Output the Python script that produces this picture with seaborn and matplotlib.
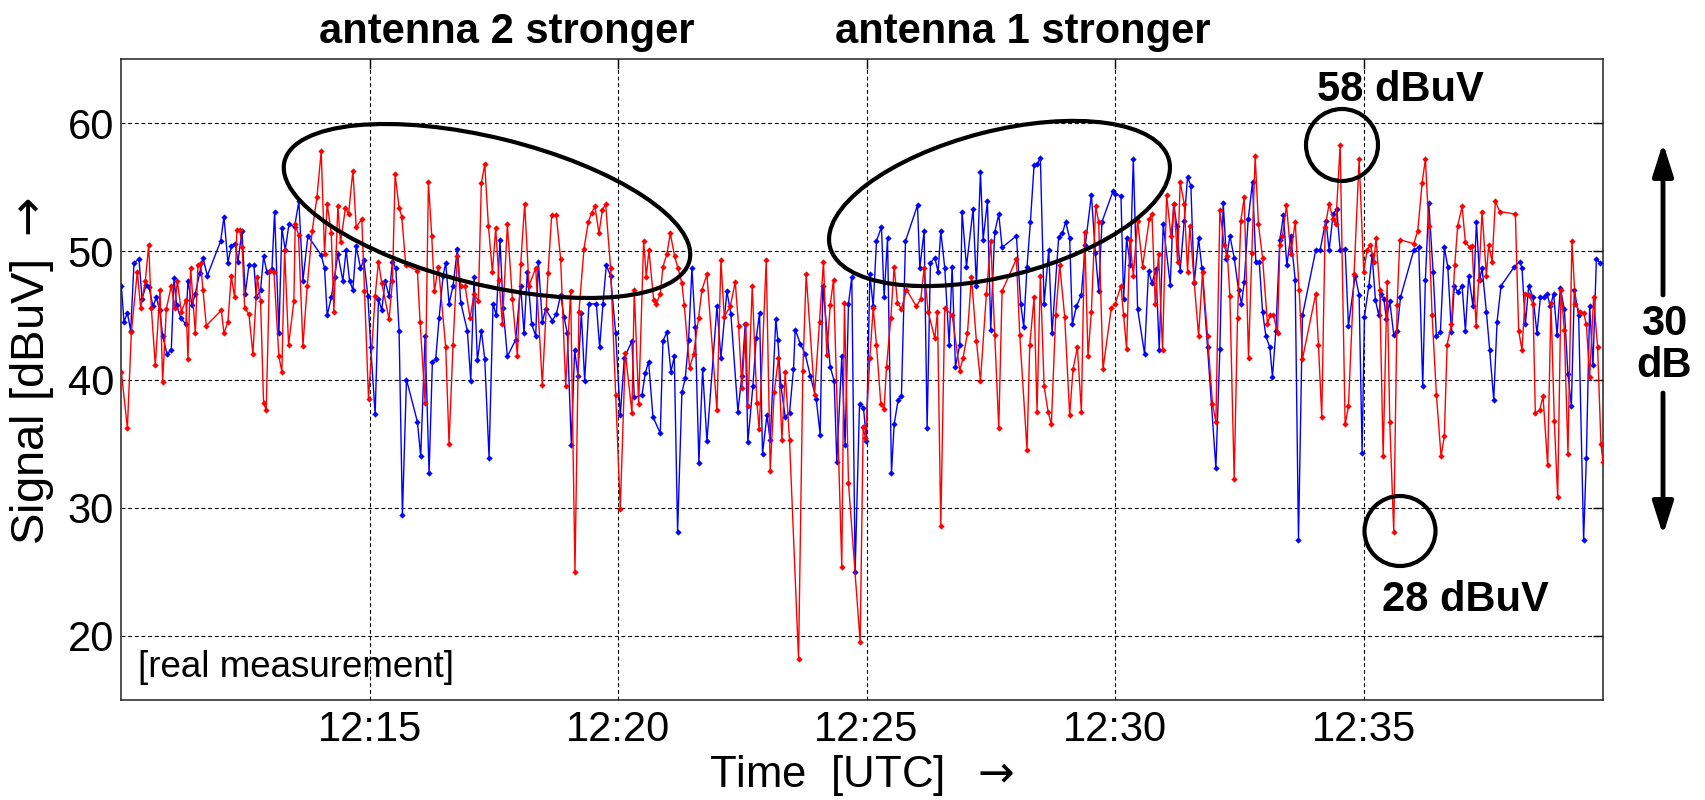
import matplotlib
matplotlib.use("Agg")
import matplotlib.pyplot as plt
import pandas as pd
import seaborn as sns
from matplotlib.patches import Ellipse, FancyArrowPatch
from matplotlib.transforms import IdentityTransform

# time in seconds after 12:10:00 UTC, signal in dBuV
red_points = [
    (0.4, 40.6), (7.7, 36.2), (12.5, 43.7), (19.7, 48.4), (23.7, 45.6), (29.4, 47.7), (33.4, 50.5), (36.6, 45.6),
    (41.4, 41.1), (47.1, 47.0), (50.3, 39.8), (54.7, 45.5), (60.7, 47.3), (64.8, 45.6), (68.0, 47.7), (72.8, 45.3),
    (78.4, 46.2), (80.8, 41.6), (84.1, 48.7), (89.7, 43.6), (92.9, 48.9), (96.1, 49.1), (98.9, 47.0), (103.0, 44.2),
    (121.1, 45.4), (124.3, 43.6), (129.1, 44.5), (133.1, 48.1), (137.1, 46.4), (140.0, 51.7), (143.2, 51.7),
    (146.4, 50.3), (149.2, 45.6), (154.4, 45.1), (159.2, 42.0), (164.5, 48.0), (168.5, 46.1), (172.1, 38.2),
    (175.3, 37.6), (179.4, 48.5), (184.6, 48.4), (190.6, 41.8), (194.2, 40.6), (197.5, 50.1), (202.3, 42.7),
    (208.7, 46.1), (210.3, 52.1), (214.3, 51.3), (219.6, 42.6), (224.8, 47.3), (230.8, 51.6), (236.5, 54.2),
    (241.7, 57.8), (245.7, 49.8), (248.9, 53.7), (253.8, 51.4), (257.0, 45.3), (261.8, 53.5), (265.0, 50.7),
    (271.0, 53.4), (274.7, 52.9), (279.9, 56.3), (283.9, 51.9), (290.7, 52.5), (293.9, 46.9), (298.8, 38.5),
    (306.8, 46.5), (310.8, 49.2), (314.8, 47.5), (323.6, 44.7), (327.7, 47.7), (330.9, 56.0), (335.7, 53.4),
    (338.9, 52.7), (343.8, 48.9), (357.8, 48.5), (361.0, 44.5), (367.1, 38.2), (371.1, 55.4), (375.1, 51.2),
    (378.3, 46.9), (383.2, 48.8), (392.0, 42.5), (396.0, 35.0), (400.8, 42.7), (406.1, 49.6), (410.1, 47.3),
    (415.3, 47.3), (421.4, 44.8), (426.2, 46.7), (431.4, 46.1), (435.0, 55.3), (439.1, 56.8), (443.5, 52.0),
    (448.3, 48.4), (452.3, 51.8), (456.3, 47.8), (460.4, 44.3), (466.4, 52.1), (472.4, 46.3), (478.5, 41.8),
    (482.5, 49.0), (487.3, 53.7), (492.5, 47.3), (500.6, 48.7), (508.6, 39.6), (515.5, 48.3), (519.9, 52.8),
    (525.5, 52.8), (530.7, 49.4), (536.8, 39.5), (542.8, 46.9), (548.0, 25.0), (552.8, 45.3), (558.9, 50.2),
    (564.1, 52.3), (568.1, 53.0), (572.1, 53.5), (577.0, 51.4), (581.0, 53.2), (585.0, 53.7), (591.0, 48.7),
    (597.1, 38.8), (602.7, 29.9), (608.8, 42.1), (616.8, 37.4), (619.6, 47.0), (624.9, 38.1), (630.9, 50.8),
    (634.1, 48.0), (637.3, 50.1), (643.0, 46.2), (646.2, 45.9), (651.0, 46.7), (654.2, 48.8), (659.0, 49.8),
    (663.1, 51.4), (668.3, 49.6), (672.3, 48.7), (677.1, 47.5), (679.9, 45.8), (686.4, 40.9), (691.2, 42.0),
    (697.2, 44.8), (701.3, 47.0), (707.3, 48.2), (719.4, 37.6), (724.2, 49.3), (728.2, 44.9), (735.4, 45.7),
    (741.5, 47.6), (745.5, 44.2), (749.5, 39.3), (754.3, 44.3), (756.7, 37.9), (762.0, 47.3), (767.6, 38.2),
    (770.4, 36.1), (778.9, 49.3), (783.7, 32.9), (788.5, 39.0), (793.7, 41.7), (797.8, 35.3), (801.8, 40.6),
    (807.0, 35.3), (817.9, 18.2), (823.1, 40.7), (827.1, 48.2), (837.2, 38.8), (843.2, 44.5), (848.0, 49.2),
    (852.0, 41.9), (856.1, 45.8), (860.1, 47.8), (870.1, 25.4), (873.3, 46.0), (878.2, 31.9), (892.3, 19.5),
    (895.9, 36.3), (898.7, 35.4), (904.0, 41.7), (908.0, 45.6), (912.0, 42.7), (917.2, 38.1), (921.2, 37.7),
    (924.1, 41.0), (929.3, 44.8), (933.3, 48.8), (937.3, 46.0), (942.1, 45.5), (948.2, 47.0), (960.2, 45.7),
    (965.5, 46.3), (969.5, 48.7), (974.3, 45.3), (982.4, 43.2), (985.6, 45.3), (989.6, 28.6), (994.4, 45.6),
    (1003.3, 45.0), (1012.5, 40.7), (1016.5, 41.7), (1021.8, 43.6), (1026.6, 48.0), (1032.6, 43.0),
    (1037.5, 39.9), (1044.7, 46.7), (1049.9, 50.8), (1054.7, 43.5), (1059.6, 36.2), (1063.6, 46.9),
    (1080.9, 49.4), (1084.9, 43.5), (1093.7, 34.5), (1097.0, 42.7), (1102.2, 46.4), (1105.8, 37.5),
    (1109.8, 48.1), (1114.3, 39.5), (1119.1, 37.5), (1123.1, 36.5), (1128.3, 45.0), (1133.2, 48.9),
    (1139.2, 44.9), (1145.2, 37.2), (1149.2, 40.8), (1154.5, 42.5), (1159.3, 37.5), (1163.3, 51.5),
    (1167.3, 41.8), (1171.4, 45.3), (1176.6, 53.5), (1180.2, 52.3), (1185.4, 40.8), (1195.5, 45.6),
    (1200.2, 45.9), (1207.1, 47.3), (1210.3, 45.0), (1213.9, 42.4), (1217.9, 50.9), (1222.0, 48.1),
    (1227.2, 52.4), (1233.2, 48.8), (1241.3, 52.5), (1244.5, 52.9), (1248.5, 45.9), (1252.5, 49.8),
    (1257.3, 42.3), (1262.2, 54.4), (1267.4, 51.2), (1271.4, 53.7), (1275.4, 49.2), (1278.6, 55.4),
    (1283.5, 53.7), (1287.5, 48.4), (1290.3, 52.0), (1295.5, 47.6), (1300.8, 43.4), (1305.6, 48.4),
    (1311.6, 43.4), (1317.6, 38.1), (1321.7, 36.7), (1326.5, 53.2), (1331.7, 50.5), (1335.7, 49.6),
    (1338.6, 46.5), (1343.8, 32.2), (1347.8, 44.8), (1351.8, 52.4), (1355.9, 54.2), (1361.1, 41.7),
    (1365.1, 49.9), (1369.1, 57.4), (1373.1, 52.1), (1378.0, 49.5), (1384.0, 44.3), (1386.8, 45.0),
    (1391.2, 45.0), (1396.1, 43.6), (1398.9, 50.5), (1402.1, 51.2), (1406.9, 53.6), (1412.1, 49.8),
    (1417.4, 52.3), (1422.2, 47.0), (1426.2, 41.6), (1442.3, 46.7), (1445.5, 42.7), (1449.5, 37.1),
    (1453.6, 51.9), (1458.4, 53.7), (1463.2, 52.5), (1466.4, 52.1), (1471.7, 58.3), (1477.7, 36.5),
    (1481.7, 37.9), (1488.5, 48.2), (1494.6, 57.2), (1500.2, 48.4), (1504.3, 50.1), (1508.3, 50.5),
    (1512.3, 49.2), (1515.1, 51.0), (1519.5, 47.0), (1523.6, 34.0), (1528.4, 47.6), (1531.6, 36.7),
    (1536.4, 28.1), (1540.5, 45.8), (1543.7, 50.9), (1560.6, 50.6), (1565.4, 51.6), (1570.6, 55.3),
    (1574.6, 57.2), (1578.7, 52.0), (1582.7, 45.0), (1587.9, 38.8), (1593.5, 34.0), (1597.5, 35.6),
    (1600.8, 42.7), (1606.0, 44.3), (1610.0, 48.9), (1613.6, 52.0), (1618.9, 53.5), (1622.9, 50.7),
    (1628.1, 50.3), (1630.9, 50.4), (1635.8, 44.2), (1639.0, 47.8), (1643.0, 53.1), (1648.2, 48.1),
    (1651.0, 50.5), (1655.1, 49.2), (1659.1, 53.9), (1664.3, 53.1), (1683.2, 52.9), (1687.2, 43.8),
    (1691.2, 42.3), (1695.3, 46.7), (1699.3, 46.6), (1704.5, 45.9), (1707.3, 37.4), (1712.6, 37.6),
    (1716.6, 38.7), (1722.2, 33.3), (1726.2, 46.0), (1730.2, 36.8), (1734.3, 30.8), (1738.3, 47.0),
    (1742.3, 43.9), (1746.7, 34.2), (1751.5, 50.8), (1755.6, 45.9), (1760.8, 45.3), (1765.6, 45.2),
    (1768.9, 44.3), (1772.9, 40.2), (1777.7, 46.4), (1782.5, 42.5), (1786.5, 35.0), (1788.9, 33.6),
]

blue_points = [
    (0.4, 47.3), (3.6, 44.5), (7.7, 45.2), (11.7, 43.8), (15.7, 49.1), (21.7, 49.4), (25.4, 46.3), (30.6, 47.4),
    (33.8, 47.2), (38.6, 45.7), (42.6, 46.4), (46.7, 45.4), (50.3, 43.4), (55.5, 42.0), (60.7, 42.3), (64.0, 47.9),
    (67.2, 45.8), (72.0, 44.8), (78.4, 44.3), (80.8, 47.7), (85.7, 45.8), (89.7, 46.7), (94.9, 48.3), (98.9, 49.5),
    (104.2, 48.1), (120.3, 50.8), (124.3, 52.7), (129.1, 49.1), (133.1, 50.4), (137.9, 50.6), (141.2, 49.2),
    (146.0, 51.6), (150.0, 46.7), (154.4, 48.9), (160.5, 48.9), (163.3, 46.4), (168.5, 47.0), (172.1, 49.6),
    (176.1, 48.4), (182.2, 48.6), (185.4, 53.1), (190.6, 43.6), (194.2, 51.8), (198.3, 50.1), (202.7, 52.1),
    (209.5, 51.9), (214.7, 53.9), (219.6, 47.7), (225.6, 51.2), (241.7, 49.7), (245.7, 48.7), (248.9, 45.0),
    (253.8, 46.4), (257.8, 48.0), (261.8, 49.8), (267.8, 47.7), (271.8, 50.1), (275.9, 47.7), (279.9, 47.0),
    (283.9, 50.4), (289.1, 48.7), (293.2, 49.3), (298.0, 46.5), (301.5, 42.5), (306.8, 37.3), (310.8, 46.3),
    (314.8, 45.4), (318.8, 47.7), (323.6, 46.5), (327.7, 49.2), (331.7, 48.7), (335.7, 43.8), (339.7, 29.4),
    (344.6, 40.0), (357.8, 36.7), (361.8, 34.0), (367.1, 43.4), (371.9, 32.7), (375.9, 41.4), (379.9, 41.6),
    (384.0, 44.8), (388.8, 48.1), (392.0, 49.1), (396.0, 45.9), (400.8, 47.3), (406.1, 50.2), (410.1, 46.0),
    (418.1, 43.8), (422.2, 39.9), (426.2, 48.0), (430.2, 41.5), (435.0, 43.8), (439.1, 41.6), (444.3, 33.9),
    (449.1, 45.9), (453.1, 45.0), (457.5, 50.9), (461.2, 45.6), (466.4, 41.8), (476.4, 43.1), (482.5, 47.3),
    (486.5, 43.6), (490.5, 48.4), (495.8, 44.3), (500.6, 43.4), (503.8, 49.2), (508.6, 44.5), (512.6, 45.5),
    (520.7, 44.6), (525.5, 45.1), (530.7, 46.6), (534.7, 44.9), (538.8, 43.6), (543.6, 34.9), (547.6, 42.3),
    (551.6, 40.3), (555.7, 45.2), (559.7, 39.9), (564.9, 45.9), (573.8, 45.9), (577.8, 42.5), (581.8, 45.9),
    (585.8, 48.9), (591.0, 48.1), (597.1, 43.6), (602.7, 37.2), (607.6, 41.7), (616.8, 43.0), (619.6, 38.6),
    (628.9, 38.8), (632.9, 40.5), (636.9, 41.4), (642.1, 37.1), (651.0, 35.8), (654.2, 43.0), (659.0, 43.7),
    (663.9, 40.6), (667.9, 41.8), (671.9, 28.1), (677.1, 39.0), (681.2, 40.1), (685.2, 43.1), (689.2, 48.7),
    (693.2, 44.1), (697.6, 33.5), (702.1, 40.8), (707.3, 35.2), (719.4, 45.7), (724.2, 41.7), (731.4, 46.9),
    (736.2, 45.1), (744.7, 37.5), (749.5, 40.3), (753.5, 44.3), (756.7, 35.1), (762.8, 39.5), (766.8, 43.2),
    (770.8, 45.2), (774.4, 34.2), (779.7, 37.2), (783.7, 35.3), (790.5, 44.7), (792.9, 43.1), (796.6, 39.5),
    (801.8, 37.1), (807.0, 37.4), (811.8, 40.8), (813.9, 43.9), (819.9, 42.8), (825.9, 42.0), (832.0, 40.3),
    (839.2, 38.5), (844.0, 35.7), (847.2, 47.3), (856.1, 41.0), (860.9, 39.9), (864.1, 33.6), (870.1, 41.8),
    (874.1, 34.9), (878.2, 45.9), (882.2, 48.0), (886.2, 25.0), (891.5, 38.1), (896.3, 37.8), (899.9, 35.2),
    (904.0, 48.2), (908.0, 45.7), (912.0, 50.8), (918.0, 51.9), (921.2, 46.4), (925.3, 51.0), (930.1, 32.7),
    (933.3, 36.5), (938.1, 38.4), (942.1, 38.7), (947.0, 50.8), (961.5, 53.6), (964.3, 48.7), (969.5, 51.6),
    (973.1, 36.2), (977.1, 49.1), (982.4, 49.5), (986.4, 48.4), (989.6, 51.6), (994.4, 48.7), (999.7, 42.7),
    (1003.3, 48.8), (1007.3, 41.0), (1012.5, 42.7), (1015.3, 53.1), (1020.6, 48.8), (1028.6, 53.3),
    (1032.6, 47.3), (1037.5, 56.2), (1040.7, 50.9), (1045.9, 53.9), (1049.9, 43.9), (1054.7, 51.5),
    (1059.6, 52.9), (1063.6, 50.3), (1080.9, 51.2), (1086.1, 45.9), (1089.7, 44.1), (1093.7, 48.8),
    (1097.8, 52.3), (1102.2, 56.7), (1106.2, 56.8), (1109.8, 57.3), (1114.3, 45.9), (1119.9, 50.1),
    (1123.9, 43.6), (1131.9, 51.1), (1136.4, 51.4), (1140.4, 52.3), (1145.2, 51.0), (1148.4, 44.3),
    (1153.3, 45.7), (1159.3, 46.6), (1164.1, 50.5), (1171.4, 54.4), (1176.2, 49.9), (1180.2, 46.9),
    (1184.2, 52.3), (1197.5, 54.7), (1200.2, 54.5), (1207.1, 54.3), (1210.3, 46.3), (1213.9, 51.0),
    (1218.3, 48.9), (1222.0, 57.2), (1227.2, 45.5), (1235.6, 42.0), (1240.4, 48.5), (1244.5, 47.5),
    (1249.3, 48.6), (1253.3, 42.3), (1258.1, 52.1), (1266.6, 47.4), (1270.6, 53.7), (1274.6, 52.0),
    (1278.6, 48.5), (1283.5, 52.4), (1287.5, 55.8), (1291.5, 55.1), (1295.5, 47.5), (1300.8, 51.0),
    (1304.8, 48.7), (1311.6, 42.5), (1321.7, 33.1), (1326.5, 42.4), (1330.5, 53.8), (1334.5, 49.4),
    (1338.6, 51.2), (1343.8, 49.5), (1349.0, 47.0), (1352.6, 45.9), (1355.9, 47.6), (1360.7, 52.5),
    (1365.9, 55.4), (1369.9, 49.2), (1374.0, 49.2), (1378.0, 45.3), (1382.0, 43.4), (1386.8, 42.5),
    (1390.0, 40.2), (1394.1, 43.8), (1398.9, 50.9), (1403.3, 52.8), (1407.3, 48.9), (1412.1, 51.2),
    (1417.4, 47.8), (1421.4, 27.5), (1426.2, 45.0), (1442.3, 50.1), (1447.5, 50.1), (1454.4, 52.4),
    (1458.4, 50.1), (1463.2, 52.9), (1467.6, 53.3), (1471.7, 50.1), (1477.7, 50.2), (1481.7, 44.2),
    (1489.8, 48.1), (1494.6, 46.6), (1498.2, 34.3), (1501.0, 44.9), (1506.3, 47.3), (1510.3, 49.7),
    (1514.3, 46.2), (1518.3, 45.0), (1521.2, 46.7), (1524.4, 46.3), (1527.6, 44.7), (1531.6, 46.1),
    (1536.4, 43.5), (1540.5, 43.8), (1544.5, 46.4), (1560.6, 50.1), (1566.6, 50.3), (1571.4, 39.5),
    (1574.6, 47.8), (1578.7, 53.8), (1583.9, 48.4), (1587.9, 43.4), (1592.7, 43.7), (1597.5, 50.3),
    (1601.6, 48.8), (1606.0, 43.7), (1609.6, 47.3), (1613.6, 46.8), (1618.9, 47.3), (1622.9, 43.8),
    (1626.9, 48.1), (1632.1, 45.7), (1636.2, 52.3), (1640.2, 47.8), (1643.0, 48.7), (1648.2, 45.3),
    (1652.2, 42.3), (1657.1, 38.4), (1661.1, 44.5), (1665.9, 47.3), (1682.0, 48.8), (1688.4, 49.2),
    (1691.2, 48.7), (1695.3, 44.3), (1699.3, 47.3), (1704.5, 46.4), (1709.3, 43.6), (1713.4, 46.4),
    (1717.4, 46.4), (1721.4, 46.7), (1725.4, 45.7), (1729.4, 46.7), (1733.5, 43.5), (1737.5, 47.1),
    (1742.3, 45.5), (1746.7, 40.4), (1750.8, 37.9), (1754.4, 47.0), (1759.6, 45.0), (1765.6, 27.5),
    (1768.9, 33.9), (1772.9, 45.7), (1776.9, 41.1), (1781.0, 49.4), (1785.7, 49.1),
]

tick_time_s = [300, 600, 900, 1200, 1500]
tick_labels = ["12:15", "12:20", "12:25", "12:30", "12:35"]
y_ticks = [20, 30, 40, 50, 60]
x_range = (0, 1789)
y_range = (15, 65)

sns.set_theme(style="white")
plt.rcParams["font.family"] = ["Liberation Sans", "DejaVu Sans"]
plt.rcParams["text.color"] = "black"
plt.rcParams["axes.labelcolor"] = "black"
plt.rcParams["xtick.color"] = "black"
plt.rcParams["ytick.color"] = "black"

W, H = 1706, 800
fig = plt.figure(figsize=(W / 100, H / 100), dpi=100)
fig.patch.set_facecolor("white")
ax = fig.add_axes([121 / W, 100 / H, 1482 / W, 641 / H])

df_red = pd.DataFrame(red_points, columns=["t", "v"])
df_blue = pd.DataFrame(blue_points, columns=["t", "v"])

sns.lineplot(data=df_blue, x="t", y="v", color="#0000ff", linewidth=1.0, marker="D",
             markersize=3.2, markeredgewidth=0, estimator=None, sort=False, ax=ax, zorder=3)
sns.lineplot(data=df_red, x="t", y="v", color="#ff0000", linewidth=1.0, marker="D",
             markersize=3.2, markeredgewidth=0, estimator=None, sort=False, ax=ax, zorder=3)

ax.set_xlim(*x_range)
ax.set_ylim(*y_range)
ax.set_xticks(tick_time_s)
ax.set_xticklabels(tick_labels)
ax.set_yticks(y_ticks)
ax.grid(True, color="black", linestyle=(0, (3.5, 2.5)), linewidth=0.8)
ax.set_axisbelow(True)
for s in ax.spines.values():
    s.set_visible(True)
    s.set_color("#222222")
    s.set_linewidth(1.1)
ax.tick_params(direction="in", length=7, width=1, top=True, right=True,
               labelsize=30, pad=5, colors="black")
ax.tick_params(axis="x", pad=7)

ax.set_xlabel("Time  [UTC]  $\\rightarrow$", fontsize=31.5, color="black")
ax.set_ylabel("Signal [dBuV] $\\rightarrow$", fontsize=34, color="black")
ax.xaxis.set_label_coords(0.5, -0.083)
ax.yaxis.set_label_coords(-0.044, 0.513)

ax.text(17 / 1482, 0.05, "[real measurement]", transform=ax.transAxes, fontsize=26.5,
        ha="left", va="center", color="black")

def ftxt(x, y, s, **kw):
    fig.text(x / W, 1 - y / H, s, fontsize=30, fontweight="bold", color="black", **kw)

ftxt(507, 43, "antenna 2 stronger", ha="center", va="baseline")
ftxt(1023, 43, "antenna 1 stronger", ha="center", va="baseline")
ftxt(1400, 101, "58 dBuV", ha="center", va="baseline")
ftxt(1465, 611, "28 dBuV", ha="center", va="baseline")
ftxt(1664, 335, "30", ha="center", va="baseline")
ftxt(1664, 377, "dB", ha="center", va="baseline")

idt = IdentityTransform()
shapes = [
    ((487, 211), 417, 147, -13.8),
    ((999.5, 203.5), 350, 145, 14.4),
    ((1342, 145), 72, 72, 0),
    ((1400, 531), 71, 70, 0),
]
for (cx, cy), w, h, ang in shapes:
    fig.add_artist(Ellipse((cx, H - cy), w, h, angle=ang, fill=False, edgecolor="black",
                           linewidth=3, transform=idt))

for y0, y1 in [(295, 143), (393, 535)]:
    fig.add_artist(FancyArrowPatch((1663, H - y0), (1663, H - y1),
                                   arrowstyle="-|>,head_length=1.1,head_width=0.35",
                                   mutation_scale=18, linewidth=3.5, color="black",
                                   shrinkA=0, shrinkB=0, transform=idt))

fig.savefig("out.png", dpi=100, facecolor="white")
